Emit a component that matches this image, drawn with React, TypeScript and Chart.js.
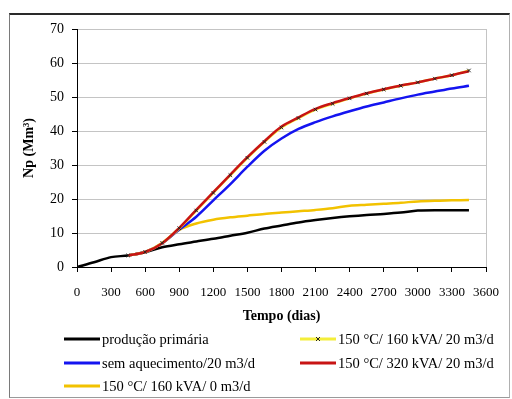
import React, { useEffect, useRef } from "react";
import { Chart, registerables } from "chart.js";

Chart.register(...registerables);

// ---- data ----
const days = [0, 150, 300, 450, 600, 750, 900, 1050, 1200, 1350, 1500, 1650, 1800, 1950, 2100, 2250, 2400, 2550, 2700, 2850, 3000, 3150, 3300, 3450];

const producaoPrimaria = [0, 1.4, 2.9, 3.4, 4.4, 5.8, 6.7, 7.5, 8.3, 9.2, 10.1, 11.3, 12.2, 13.1, 13.8, 14.4, 14.9, 15.3, 15.6, 16.0, 16.6, 16.7, 16.7, 16.7];
const semAquecimento = [null, null, null, 3.4, 4.4, 7.0, 11.0, 14.8, 19.6, 24.4, 29.5, 34.2, 37.8, 40.6, 42.6, 44.3, 45.8, 47.2, 48.4, 49.6, 50.7, 51.6, 52.5, 53.3];
const kva160m3d0 = [null, null, null, 3.4, 4.4, 7.0, 10.9, 12.8, 13.9, 14.6, 15.1, 15.6, 16.0, 16.4, 16.8, 17.3, 18.0, 18.3, 18.6, 18.9, 19.3, 19.5, 19.6, 19.7];
const kva160m3d20 = [null, null, null, 3.4, 4.4, 7.1, 11.4, 16.6, 21.8, 27.0, 32.1, 36.8, 41.0, 43.8, 46.3, 48.0, 49.6, 51.0, 52.2, 53.3, 54.3, 55.4, 56.4, 57.8];
const kva320m3d20 = [null, null, null, 3.4, 4.4, 7.0, 11.5, 16.8, 22.0, 27.2, 32.3, 37.0, 41.3, 44.0, 46.5, 48.2, 49.7, 51.1, 52.3, 53.4, 54.3, 55.4, 56.4, 57.6];

const xTickValues = [0, 300, 600, 900, 1200, 1500, 1800, 2100, 2400, 2700, 3000, 3300, 3600];
const yTickValues = [0, 10, 20, 30, 40, 50, 60, 70];

const xTitle = "Tempo (dias)";
const yTitle = "Np (Mm³)";

const labelPrimaria = "produção primária";
const labelSem = "sem aquecimento/20 m3/d";
const label160_0 = "150 °C/ 160 kVA/ 0 m3/d";
const label160_20 = "150 °C/ 160 kVA/ 20 m3/d";
const label320_20 = "150 °C/ 320 kVA/ 20 m3/d";

const C_BLACK = "#000000";
const C_BLUE = "#1414f0";
const C_GOLD = "#f2c200";
const C_PALE = "#f4ee3a";
const C_RED = "#c81414";

const pts = (arr: (number | null)[]) => days.map((d, i) => ({ x: d, y: arr[i] }));

const SERIF = '"Liberation Serif", "Times New Roman", serif';

export default function App() {
  const ref = useRef<HTMLCanvasElement | null>(null);

  useEffect(() => {
    if (!ref.current) return;
    const base = {
      pointRadius: 0,
      borderWidth: 2.5,
      cubicInterpolationMode: "monotone" as const,
      spanGaps: false,
      fill: false,
    };
    const chart = new Chart(ref.current, {
      type: "line",
      data: {
        datasets: [
          {
            ...base,
            label: label160_20 + " markers",
            data: pts(kva160m3d20),
            showLine: false,
            pointRadius: 2.5,
            pointStyle: "crossRot",
            pointBorderColor: "#222",
            pointBorderWidth: 1,
            borderColor: "#222",
            order: 0,
          },
          { ...base, label: label320_20, data: pts(kva320m3d20), borderColor: C_RED, order: 1 },
          { ...base, label: label160_20, data: pts(kva160m3d20), borderColor: C_PALE, order: 2 },
          { ...base, label: labelSem, data: pts(semAquecimento), borderColor: C_BLUE, order: 3 },
          { ...base, label: label160_0, data: pts(kva160m3d0), borderColor: C_GOLD, order: 4 },
          { ...base, label: labelPrimaria, data: pts(producaoPrimaria), borderColor: C_BLACK, order: 5 },
        ],
      },
      options: {
        responsive: false,
        animation: false,
        devicePixelRatio: 1,
        layout: { padding: { top: 29, right: 17, left: 0, bottom: 0 } },
        plugins: { legend: { display: false }, tooltip: { enabled: false } },
        scales: {
          x: {
            type: "linear",
            min: 0,
            max: 3600,
            afterBuildTicks: (s: any) => {
              s.ticks = xTickValues.map((v) => ({ value: v }));
            },
            afterFit: (s: any) => {
              s.height = 63;
            },
            ticks: {
              autoSkip: false,
              maxRotation: 0,
              color: "#000",
              padding: 13,
              font: { family: SERIF, size: 13 },
              callback: (v: any) => String(v),
            },
            grid: {
              drawOnChartArea: true,
              color: (ctx: any) => (ctx.tick && ctx.tick.value === 3600 ? "#c4c4c4" : "rgba(0,0,0,0)"),
              tickColor: "#000",
              tickLength: 5,
            },
            border: { color: "#000", width: 1 },
            title: {
              display: true,
              text: xTitle,
              color: "#000",
              font: { family: SERIF, size: 14, weight: "bold" },
              padding: { top: 0, bottom: 5 },
            },
          },
          y: {
            type: "linear",
            min: 0,
            max: 70,
            afterBuildTicks: (s: any) => {
              s.ticks = yTickValues.map((v) => ({ value: v }));
            },
            afterFit: (s: any) => {
              s.width = 77;
            },
            ticks: {
              color: "#000",
              padding: 8,
              font: { family: SERIF, size: 14 },
              callback: (v: any) => String(v),
            },
            grid: {
              color: "#c4c4c4",
              tickColor: "#000",
              tickLength: 5,
            },
            border: { color: "#000", width: 1 },
            title: {
              display: true,
              text: yTitle,
              color: "#000",
              font: { family: SERIF, size: 14, weight: "bold" },
              padding: { top: 21, bottom: 0 },
            },
          },
        },
      },
    });
    return () => chart.destroy();
  }, []);

  const legendItem = (
    label: string,
    color: string,
    left: number,
    top: number,
    marker = false
  ) => (
    <div
      key={label}
      style={{
        position: "absolute",
        left,
        top: top - 10,
        height: 20,
        display: "flex",
        alignItems: "center",
        whiteSpace: "nowrap",
      }}
    >
      <svg width={36} height={20} style={{ display: "block" }}>
        <line x1={0} y1={10} x2={36} y2={10} stroke={color} strokeWidth={3} />
        {marker && (
          <g stroke="#222" strokeWidth={1}>
            <line x1={16} y1={8} x2={20} y2={12} />
            <line x1={16} y1={12} x2={20} y2={8} />
          </g>
        )}
      </svg>
      <span
        style={{
          fontFamily: SERIF,
          fontSize: 14.5,
          color: "#000",
          marginLeft: 2,
          lineHeight: "20px",
        }}
      >
        {label}
      </span>
    </div>
  );

  return (
    <div style={{ position: "absolute", left: 0, top: 0, width: 512, height: 399, background: "#fff" }}>
      <div
        style={{
          position: "absolute",
          left: 9,
          top: 13,
          width: 501,
          height: 385,
          boxSizing: "border-box",
          borderLeft: "1px solid #7a7a7a",
          borderRight: "1px solid #b0b0b0",
          borderBottom: "1px solid #9a9a9a",
          borderTop: "2px solid #2a2a2a",
        }}
      />
      <canvas
        ref={ref}
        width={512}
        height={330}
        style={{ position: "absolute", left: 0, top: 0, width: 512, height: 330 }}
      />
      {legendItem(labelPrimaria, C_BLACK, 64, 339)}
      {legendItem(labelSem, C_BLUE, 64, 363)}
      {legendItem(label160_0, C_GOLD, 64, 386)}
      {legendItem(label160_20, C_PALE, 300, 339, true)}
      {legendItem(label320_20, C_RED, 300, 363)}
    </div>
  );
}
